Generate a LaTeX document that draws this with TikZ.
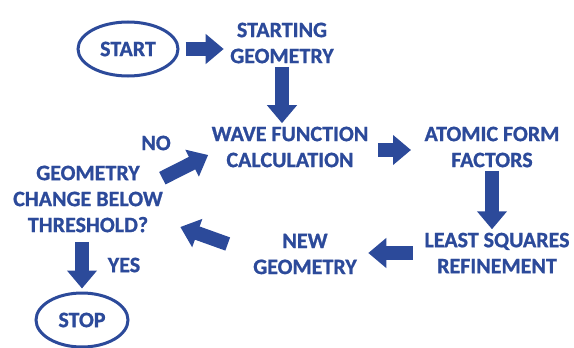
\documentclass[tikz,border=0pt]{standalone}
\usepackage{fontspec}
\setmainfont{Carlito}[BoldFeatures={FakeBold=1}]
\usetikzlibrary{arrows.meta,shapes.geometric}
\definecolor{flowblue}{RGB}{44,74,154}

\begin{document}
\begin{tikzpicture}[
  x=1pt,y=-1pt,
  every node/.style={font=\fontsize{22}{26}\selectfont\bfseries,text=flowblue,align=center},
  term/.style={ellipse,draw=flowblue,line width=3pt,minimum width=100pt,minimum height=54pt,inner sep=0},
  fat/.style={line width=14pt,draw=flowblue,-{Triangle[length=18pt,width=29pt]}},
]
  \useasboundingbox (0,0) rectangle (574,348);

  \node[term] (start) at (128,49) {START};
  \node (sg) at (282,43) {STARTING\\GEOMETRY};
  \node (wf) at (290,147) {WAVE FUNCTION\\CALCULATION};
  \node (af) at (492,147) {ATOMIC FORM\\FACTORS};
  \node (ls) at (497,253) {LEAST SQUARES\\REFINEMENT};
  \node (ng) at (305,254) {NEW\\GEOMETRY};
  \node (gc) at (88,199) {GEOMETRY\\CHANGE BELOW\\THRESHOLD?};
  \node[term,minimum width=92pt] (stop) at (82,320) {STOP};
  \node (no) at (156,143) {NO};
  \node (yes) at (124,265) {YES};

  % main loop
  \draw[fat,shorten <=6pt,shorten >=3pt] (start.east) -- (start.east -| sg.west);
  \draw[fat] (sg.south) -- (sg.south |- wf.north);
  \draw[fat,shorten <=6pt,shorten >=10pt] ([yshift=-3pt]wf.east) -- ([yshift=-3pt]wf.east -| af.west);
  \draw[fat] (af.south) -- (af.south |- ls.north);
  \draw[fat,shorten <=8pt,shorten >=8pt] (ls.west) -- (ls.west -| ng.east);
  \draw[fat] ([shift={(-22pt,10pt)}]ng.west) -- ([shift={(14pt,-28pt)}]gc.east);
  % decision
  \draw[fat] ([shift={(-4pt,-16pt)}]gc.north east) -- ([yshift=-8pt]wf.west);
  \draw[fat,shorten <=6pt,shorten >=3pt] (gc.south -| stop.north) -- (stop.north);
\end{tikzpicture}
\end{document}
